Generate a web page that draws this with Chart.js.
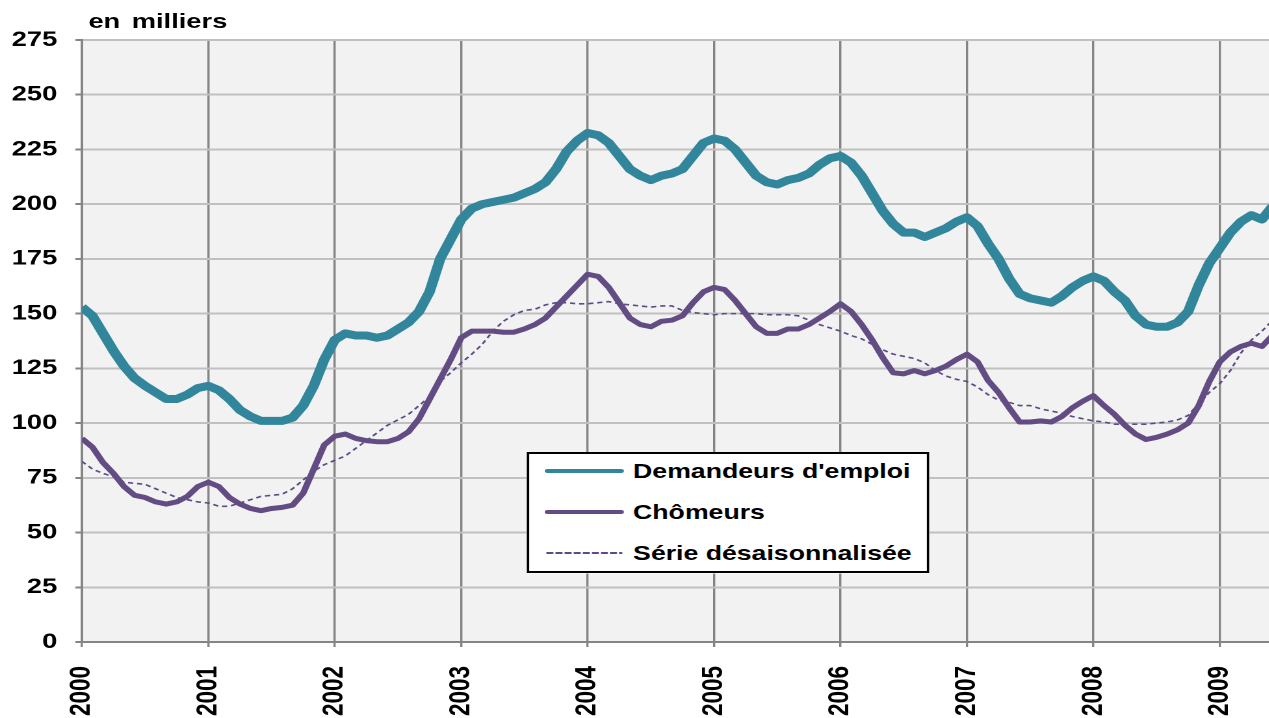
<!DOCTYPE html>
<html>
<head>
<meta charset="utf-8">
<script src="https://cdn.jsdelivr.net/npm/chart.js@4.4.1/dist/chart.umd.min.js"></script>
<style>
  html, body { margin: 0; padding: 0; background: #fff; overflow: hidden; }
  /* the reference is stretched horizontally, so the whole chart is drawn narrow and scaled */
  #wrap { position: absolute; left: 0; top: 0; width: 976px; height: 718px; transform: scaleX(1.3); transform-origin: 0 0; }
  #unit { position: absolute; left: 68px; top: 9px; font: bold 21px "Liberation Sans", Arial, sans-serif; word-spacing: 3px; }
  #legend { position: absolute; left: 405px; top: 452px; width: 306px; height: 117px; border: 2px solid #000; background: #fff;
            font: bold 20.5px "Liberation Sans", Arial, sans-serif; }
  .row { position: absolute; left: 0; height: 24px; line-height: 24px; white-space: nowrap; }
  .row svg { position: absolute; left: 12px; top: 0; }
  .row span { position: absolute; left: 80px; top: 0; }
</style>
</head>
<body>
<div id="wrap">
  <canvas id="chart" width="976" height="718"></canvas>
  <div id="unit">en milliers</div>
  <div id="legend"></div>
</div>
<script>
var yearLabels = ["2000", "2001", "2002", "2003", "2004", "2005", "2006", "2007", "2008", "2009"];

// valeurs mensuelles, janvier 2000 -> juin 2009 (en milliers)
var demandeurs = [153, 149, 141, 133, 126, 120.5, 117, 114, 111, 111, 113, 116,
                  117, 115, 111, 106, 103, 101, 101, 101, 102.5, 108, 117, 129,
                  138, 141, 140, 140, 139, 140, 143, 146, 151, 160, 175, 184,
                  193, 198, 200, 201, 202, 203, 205, 207, 210, 216, 224, 229,
                  232.5, 231.5, 228, 222, 216, 213, 211, 213, 214, 216, 222, 228,
                  230, 229, 225, 219, 213, 210, 209, 211, 212, 214, 218, 221,
                  222, 219, 213, 205, 197, 191, 187, 187, 185, 187, 189, 192,
                  194, 190, 182, 175, 166, 159, 157, 156, 155, 158, 162, 165,
                  167, 165, 160, 156, 149, 145, 144, 144, 146, 151, 163, 173,
                  180, 187, 192, 195, 193, 199];
var chomeurs = [93, 89, 82, 77, 71, 67, 66, 64, 63, 64, 66.5, 71,
                73, 71, 66, 63, 61, 60, 61, 61.5, 62.5, 68, 79, 90,
                94, 95, 93, 92, 91.5, 91.5, 93, 96, 102, 111, 120, 129,
                139, 142, 142, 142, 141.5, 141.5, 143, 145, 148, 153, 158, 163,
                168, 167, 162, 155, 148, 145, 144, 146.5, 147, 149, 155, 160,
                162, 161, 156, 150, 144, 141, 141, 143, 143, 145, 148, 151,
                154.5, 151, 145, 138, 130, 123, 122.5, 124, 122.5, 124, 126, 129,
                131.5, 128, 119.5, 114, 107, 100.5, 100.5, 101, 100.5, 103, 107, 110,
                112.5, 108, 104, 99, 95, 92.5, 93.5, 95, 97, 100, 108, 119,
                128, 132.5, 135, 136.5, 135, 140];
var desaisonnalisee = [82.5, 79, 77, 75.5, 73, 72.5, 72, 70, 68, 66, 65, 64,
                       63.5, 62, 62, 63.5, 65, 66.5, 67, 67.5, 70, 74, 78, 81,
                       83, 85, 88.5, 92, 95.5, 99, 101.5, 104, 108, 112, 119, 123,
                       127.5, 131.5, 136, 142, 146.5, 149.5, 151.5, 152, 154, 155, 155, 154.5,
                       154.5, 155, 155.5, 154.5, 154, 153.5, 153, 153.5, 153.5, 151.5, 150.5, 150,
                       149.5, 150, 150, 150, 150, 149.5, 149.5, 149.5, 149, 147, 145, 143.5,
                       142, 140, 138.5, 136, 133.5, 131.5, 130.5, 129.5, 127.5, 124, 121.5, 120,
                       119, 116.5, 113, 110.5, 109.5, 108, 108, 106.5, 105.5, 104.5, 103, 102,
                       101, 100.5, 99.5, 99.5, 99.5, 99.5, 100, 100.5, 101.5, 103.5, 109, 114,
                       118, 124, 132, 138, 142, 147];

var yMax = 275, yStep = 25;
var lastMonth = 112.65;   // l'axe s'arrête avant le dernier point
var fontFamily = "'Liberation Sans', Arial, sans-serif";

function toPoints(values) {
    return values.map(function (v, i) { return { x: i, y: v }; });
}

var seriesList = [
    { label: "Demandeurs d'emploi", data: demandeurs, color: "#31869B", width: 8, dash: [] },
    { label: "Chômeurs", data: chomeurs, color: "#634C84", width: 5, dash: [] },
    { label: "Série désaisonnalisée", data: desaisonnalisee, color: "#5E4A86", width: 1.6, dash: [4, 3] }
];

var plotBackground = {
    id: 'plotBackground',
    beforeDraw: function (chart) {
        var ctx = chart.ctx, a = chart.chartArea;
        ctx.save();
        ctx.fillStyle = '#F2F2F2';
        ctx.fillRect(a.left, a.top, a.right - a.left, a.bottom - a.top);
        ctx.restore();
    }
};

// légende en html
var legendBox = document.getElementById('legend');
seriesList.forEach(function (s, i) {
    var row = document.createElement('div');
    row.className = 'row';
    row.style.top = (5 + i * 41) + 'px';
    row.style.width = '300px';
    var sw = s.dash.length ? 1.8 : 4;
    row.innerHTML = '<svg width="62" height="24"><line x1="2" y1="12" x2="59" y2="12" stroke="' + s.color +
        '" stroke-width="' + sw + '" stroke-linecap="round"' + (s.dash.length ? ' stroke-dasharray="4 3"' : '') +
        '/></svg><span></span>';
    row.querySelector('span').textContent = s.label;
    legendBox.appendChild(row);
});

var ctx = document.getElementById('chart');
var myChart = new Chart(ctx, {
    type: 'line',
    data: {
        datasets: seriesList.map(function (s) {
            return {
                label: s.label,
                data: toPoints(s.data),
                borderColor: s.color,
                backgroundColor: s.color,
                borderWidth: s.width,
                borderDash: s.dash,
                borderJoinStyle: 'round',
                pointRadius: 0,
                tension: 0,
                fill: false
            };
        })
    },
    options: {
        responsive: false,
        animation: false,
        devicePixelRatio: 2,
        layout: { padding: { top: 40, left: 0, right: 0, bottom: 0 } },
        plugins: {
            legend: { display: false },
            tooltip: { enabled: false }
        },
        scales: {
            x: {
                type: 'linear',
                min: 0,
                max: lastMonth,
                afterFit: function (scale) {
                    scale.height = 76;
                    scale.paddingLeft = 0;
                    scale.paddingRight = 0;
                },
                ticks: {
                    stepSize: 12,
                    includeBounds: false,
                    autoSkip: false,
                    minRotation: 90,
                    maxRotation: 90,
                    padding: 19,
                    color: '#000',
                    font: { family: fontFamily, size: 22.5, weight: 'bold' },
                    callback: function (v) { return yearLabels[v / 12] || ''; }
                },
                grid: { color: '#858585', lineWidth: 1.7, tickLength: 5, tickColor: '#858585' },
                border: { color: '#858585', width: 2 }
            },
            y: {
                min: 0,
                max: yMax,
                afterFit: function (scale) { scale.width = 63; },
                ticks: {
                    stepSize: yStep,
                    padding: 14,
                    color: '#000',
                    font: { family: fontFamily, size: 21, weight: 'bold' }
                },
                grid: { color: '#C0C0C0', lineWidth: 2, tickLength: 5, tickColor: '#858585' },
                border: { color: '#858585', width: 2 }
            }
        }
    },
    plugins: [plotBackground]
});
</script>
</body>
</html>
